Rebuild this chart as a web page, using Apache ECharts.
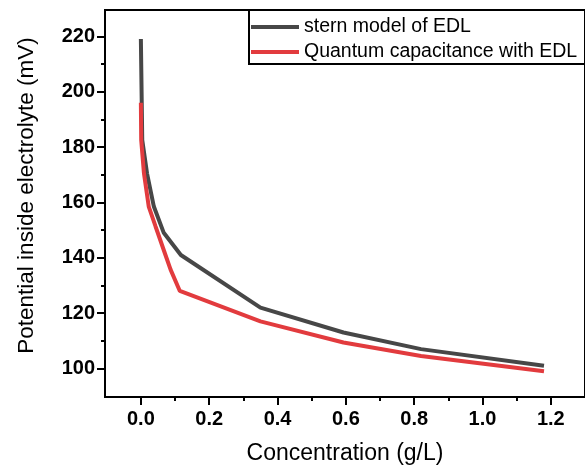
<!DOCTYPE html>
<html lang="en">
<head>
    <meta charset="UTF-8">
    <title>Potential vs concentration</title>
    <script src="https://cdn.jsdelivr.net/npm/echarts@6/dist/echarts.min.js"></script>
    <style type="text/css">
    html, body { margin:0; padding:0; background:#fff; }
    #chart { width:585px; height:470px; }
    </style>
</head>
<body>
<div id="chart"></div>
<script type="text/javascript">
    // stern model of EDL
    var sternX = [0, 0.004, 0.018, 0.038, 0.067, 0.117, 0.35, 0.593, 0.82, 1.18];
    var sternY = [219, 182.5, 170.5, 158.5, 149, 141, 122, 113, 107, 101];
    // quantum capacitance with EDL
    var quantX = [0, 0.001, 0.009, 0.023, 0.043, 0.072, 0.087, 0.114, 0.35, 0.593, 0.82, 1.18];
    var quantY = [196, 182.5, 170.5, 158.5, 151.3, 141, 135.7, 128, 117, 109.4, 104.5, 99];

    var xMajor = [0, 0.2, 0.4, 0.6, 0.8, 1.0, 1.2];
    var xMinor = [0.1, 0.3, 0.5, 0.7, 0.9, 1.1];
    var yMajor = [100, 120, 140, 160, 180, 200, 220];
    var yMinor = [110, 130, 150, 170, 190, 210];

    var seriesNames = ['stern model of EDL', 'Quantum capacitance with EDL'];

    function pairs(xs, ys) {
        var out = [];
        for (var i = 0; i < xs.length; i++) out.push([xs[i], ys[i]]);
        return out;
    }

    var FONT = '"Liberation Sans", Arial, sans-serif';
    var labelStyle = { color: '#000', fontWeight: 'bold', fontSize: 20, fontFamily: FONT };
    var lineBlack = { color: '#000', width: 2 };

    var myChart = echarts.init(document.getElementById('chart'));
    var option = {
        backgroundColor: '#fff',
        animation: false,
        grid: {
            left: 105, top: 10, right: -3, bottom: 72,
            show: true, borderColor: '#000', borderWidth: 2, backgroundColor: 'transparent'
        },
        legend: {
            orient: 'vertical',
            left: 249, top: 10,
            borderColor: '#000', borderWidth: 2,
            padding: [7, 30, 2, 2],
            icon: 'rect',
            itemWidth: 48, itemHeight: 4, itemGap: 5,
            textStyle: { color: '#000', fontSize: 19.5, lineHeight: 20, fontFamily: FONT },
            data: seriesNames
        },
        xAxis: [{
            type: 'value', min: -0.105, max: 1.3,
            name: 'Concentration (g/L)', nameLocation: 'middle', nameGap: 45,
            nameTextStyle: { color: '#000', fontSize: 23, fontFamily: FONT },
            axisLine: { onZero: false, lineStyle: lineBlack },
            axisTick: { length: 8, lineStyle: lineBlack, customValues: xMajor },
            axisLabel: Object.assign({ margin: 12, customValues: xMajor,
                formatter: function (v) { return v.toFixed(1); } }, labelStyle),
            splitLine: { show: false }
        }, {
            type: 'value', min: -0.105, max: 1.3, position: 'bottom',
            axisLine: { show: false },
            axisTick: { length: 4, lineStyle: lineBlack, customValues: xMinor },
            axisLabel: { show: false },
            splitLine: { show: false }
        }],
        yAxis: [{
            type: 'value', min: 89.7, max: 229.5,
            name: 'Potential inside electrolyte (mV)', nameLocation: 'middle', nameGap: 67,
            nameTextStyle: { color: '#000', fontSize: 22.5, fontFamily: FONT, padding: [0, 0, 0, 16] },
            axisLine: { show: true, onZero: false, lineStyle: lineBlack },
            axisTick: { show: true, length: 8, lineStyle: lineBlack, customValues: yMajor },
            axisLabel: Object.assign({ margin: 10, customValues: yMajor }, labelStyle),
            splitLine: { show: false }
        }, {
            type: 'value', min: 89.7, max: 229.5, position: 'left',
            axisLine: { show: false, onZero: false },
            axisTick: { show: true, length: 4, lineStyle: lineBlack, customValues: yMinor },
            axisLabel: { show: false },
            splitLine: { show: false }
        }],
        series: [{
            name: seriesNames[0], type: 'line', symbol: 'none',
            data: pairs(sternX, sternY),
            lineStyle: { color: '#474747', width: 4 },
            itemStyle: { color: '#474747' }
        }, {
            name: seriesNames[1], type: 'line', symbol: 'none',
            data: pairs(quantX, quantY),
            lineStyle: { color: '#e23b3e', width: 4 },
            itemStyle: { color: '#e23b3e' }
        }]
    };
    myChart.setOption(option);
</script>
</body>
</html>
